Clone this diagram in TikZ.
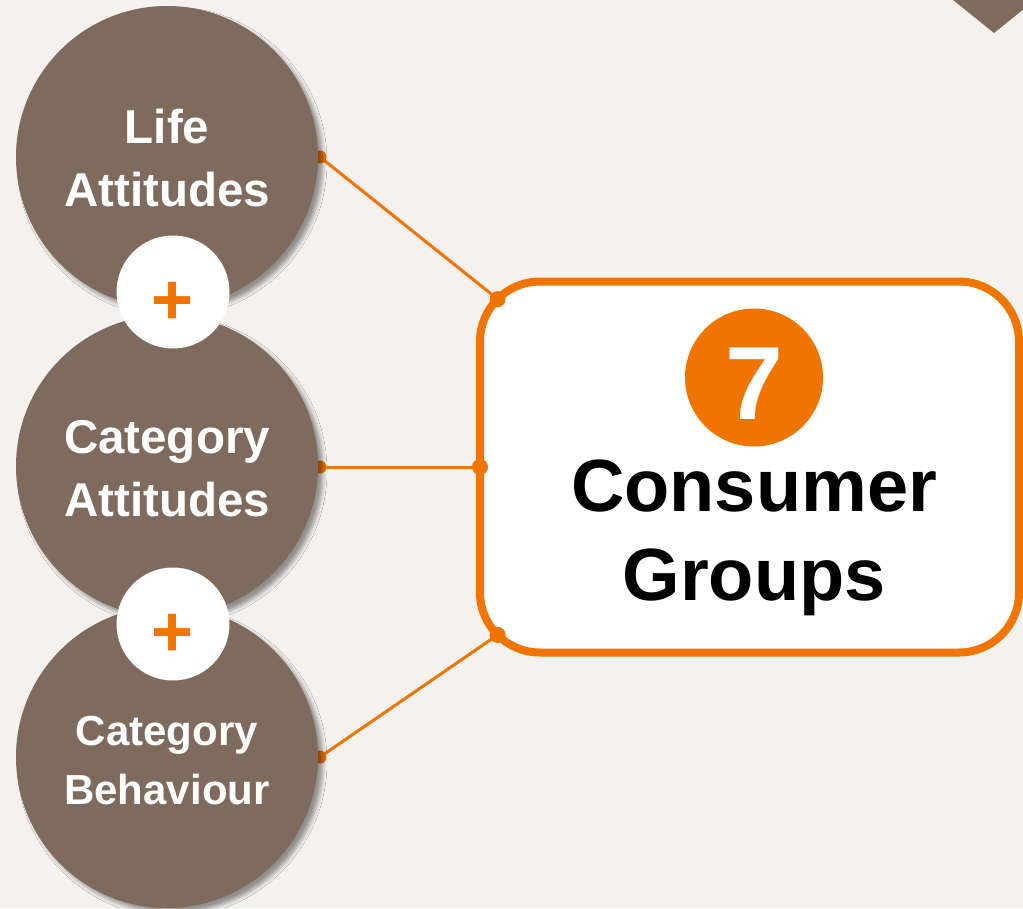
\documentclass[tikz,border=0pt]{standalone}
\usepackage{fontspec}
\setmainfont{Liberation Sans}
\usetikzlibrary{shadows.blur,calc}
\definecolor{bgc}{HTML}{F4F1EE}
\definecolor{brownc}{HTML}{7F6B5D}
\definecolor{orangec}{HTML}{F07400}

\begin{document}
\begin{tikzpicture}[x=1pt,y=-1pt,
  bubble/.style={circle, fill=brownc, minimum size=302pt, inner sep=0pt, outer sep=0pt,
    blur shadow={shadow xshift=5pt, shadow yshift=-5pt, shadow blur radius=4pt, shadow opacity=40}},
  bubbletext/.style={text=white, align=center, inner sep=0pt, font=\bfseries\fontsize{47.5}{63}\selectfont},
  smalltext/.style={text=white, align=center, inner sep=0pt, font=\bfseries\fontsize{42}{59}\selectfont},
  pluscirc/.style={circle, fill=white, minimum size=113pt, inner sep=0pt, outer sep=0pt},
  plustext/.style={text=orangec, inner sep=0pt, font=\bfseries\fontsize{72}{72}\selectfont},
  conn/.style={draw=orangec, line width=3pt},
  enddot/.style={fill=orangec},
  groupbox/.style={draw=orangec, line width=8pt, fill=white, rounded corners=60pt,
    minimum width=539pt, minimum height=371pt, inner sep=0pt, outer sep=0pt},
  badge/.style={circle, fill=orangec, minimum size=138pt, inner sep=0pt, outer sep=0pt},
  badgetext/.style={text=white, inner sep=0pt, font=\bfseries\fontsize{104}{104}\selectfont},
  titletext/.style={text=black, align=center, inner sep=0pt, font=\bfseries\fontsize{74}{89}\selectfont}
]
\useasboundingbox (0,0) rectangle (1023,908);
\fill[bgc] (0,0) rectangle (1023,908);

% corner marker
\fill[brownc] (953,0) -- (994,33) -- (1035,0) -- cycle;

% result box and its attachment points
\node[groupbox] (box) at (749.5,467) {};
\coordinate (bTop) at ($(box.north west)+(17.6,17.6)$);
\coordinate (bMid) at (box.west);
\coordinate (bBot) at ($(box.south west)+(17.6,-17.6)$);

% anchor points on the bubbles
\coordinate (c1e) at (320,157);
\coordinate (c2e) at (320,467);
\coordinate (c3e) at (320,757);

% connectors (drawn below the bubbles)
\draw[conn] (c1e) -- (bTop);
\draw[conn] (c2e) -- (bMid);
\draw[conn] (c3e) -- (bBot);
\fill[enddot] (c1e) circle (6.5);
\fill[enddot] (c2e) circle (6.5);
\fill[enddot] (c3e) circle (6.5);

% input bubbles
\node[bubble] (c1) at (167,157) {};
\node[bubble] (c2) at (167,466) {};
\node[bubble] (c3) at (167,757) {};
\node[bubbletext] (t1) at (167,158) {Life\\Attitudes};
\node[bubbletext] (t2) at (167,469) {Category\\Attitudes};
\node[smalltext] (t3) at (167,761) {Category\\Behaviour};

% plus signs between bubbles
\node[pluscirc] (p1) at (173,292) {};
\node[plustext] (p1t) at (173,303) {+};
\node[pluscirc] (p2) at (173,624) {};
\node[plustext] (p2t) at (173,635) {+};

% dots where the connectors meet the box
\fill[enddot] (bTop) circle (8);
\fill[enddot] (bMid) circle (8);
\fill[enddot] (bBot) circle (8);

% badge and title
\node[badge] (b7) at (754,377.5) {};
\node[badgetext] (b7t) at (754,383.5) {7};
\node[titletext] (title) at (754,538) {Consumer\\Groups};
\end{tikzpicture}
\end{document}
